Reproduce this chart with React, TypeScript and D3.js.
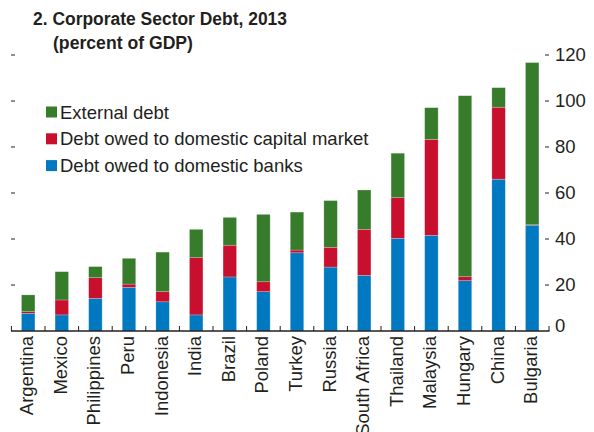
import React from "react";
import * as d3 from "d3";

const countries = ["Argentina","Mexico","Philippines","Peru","Indonesia","India","Brazil","Poland","Turkey","Russia","South Africa","Thailand","Malaysia","Hungary","China","Bulgaria"];
const banks = [7.7,7.0,14.2,19.0,12.7,7.0,23.5,17.1,34.0,27.8,24.2,40.3,41.6,21.9,66.0,46.0];
const capitalMarket = [0.7,6.5,9.0,1.4,4.4,24.9,13.8,4.3,1.2,8.6,20.0,17.7,41.7,1.7,31.3,0.2];
const external = [7.3,12.3,4.8,11.2,17.2,12.3,12.1,29.3,16.5,20.3,17.1,19.3,13.8,78.7,8.5,70.5];
const yTicks = [0,20,40,60,80,100,120];
const seriesNames = ["External debt","Debt owed to domestic capital market","Debt owed to domestic banks"];
const titleLines = ["2. Corporate Sector Debt, 2013","(percent of GDP)"];

const colors = { banks: "#0079c1", capital: "#c8102e", external: "#367c2b" };
const textColor = "#231f20";
const font = "'Liberation Sans', Arial, sans-serif";

export default function App() {
  const W = 594, H = 432;
  const x = d3.scaleBand<string>().domain(countries).range([11.4, 549]).paddingInner(0.6).paddingOuter(0.3);
  const step = x.step();
  const y = d3.scaleLinear().domain([0, 120]).range([331, 55]);

  const rows = countries.map((c, i) => ({ c, banks: banks[i], capital: capitalMarket[i], external: external[i] }));
  const stack = d3.stack<any>().keys(["banks", "capital", "external"])(rows);
  const keyColor: Record<string, string> = colors as any;

  const legendColors = [colors.external, colors.capital, colors.banks];
  const x0 = 11.4;

  return (
    <svg width={W} height={H} style={{ position: "absolute", left: 0, top: 0, background: "#fff" }}>
      <text x={33} y={25} fontFamily={font} fontWeight="bold" fontSize={18} fill={textColor} textLength={254} lengthAdjust="spacingAndGlyphs">{titleLines[0]}</text>
      <text x={53} y={49} fontFamily={font} fontWeight="bold" fontSize={18} fill={textColor} textLength={140} lengthAdjust="spacingAndGlyphs">{titleLines[1]}</text>

      {stack.map((layer) => (
        <g key={layer.key} fill={keyColor[layer.key]}>
          {layer.map((d, i) => (
            <rect key={i} x={x(countries[i])} width={x.bandwidth()} y={y(d[1])} height={Math.max(0, y(d[0]) - y(d[1]))} stroke="#ffffff" strokeOpacity={0.35} strokeWidth={0.6} />
          ))}
        </g>
      ))}

      {/* left ticks */}
      {yTicks.filter(t => t > 0).map(t => (
        <line key={"l" + t} x1={11} x2={15} y1={y(t)} y2={y(t)} stroke={textColor} strokeWidth={1} />
      ))}
      {/* right ticks & labels */}
      {yTicks.map(t => (
        <g key={"r" + t}>
          {t > 0 && <line x1={545} x2={549} y1={y(t)} y2={y(t)} stroke={textColor} strokeWidth={1} />}
          <text x={555} y={t === 0 ? y(t) - 5 : y(t)} dy="0.35em" fontFamily={font} fontSize={18.5} fill={textColor}>{t}</text>
        </g>
      ))}

      {/* baseline */}
      <line x1={11} x2={549.5} y1={331} y2={331} stroke={textColor} strokeWidth={1.5} />
      {d3.range(countries.length + 1).map(i => (
        <line key={"t" + i} x1={x0 + i * step} x2={x0 + i * step} y1={331} y2={326} stroke={textColor} strokeWidth={1} />
      ))}

      {countries.map(c => (
        <text key={c} transform={`translate(${(x(c) as number) + x.bandwidth() / 2 + 5},336) rotate(-90)`} textAnchor="end" fontFamily={font} fontSize={18.5} fill={textColor}>{c}</text>
      ))}

      {seriesNames.map((s, i) => (
        <g key={s}>
          <rect x={46} y={106.5 + i * 26.8} width={11} height={11} fill={legendColors[i]} />
          <text x={60} y={119 + i * 26.4} fontFamily={font} fontSize={18.5} fill={textColor}>{s}</text>
        </g>
      ))}
    </svg>
  );
}
